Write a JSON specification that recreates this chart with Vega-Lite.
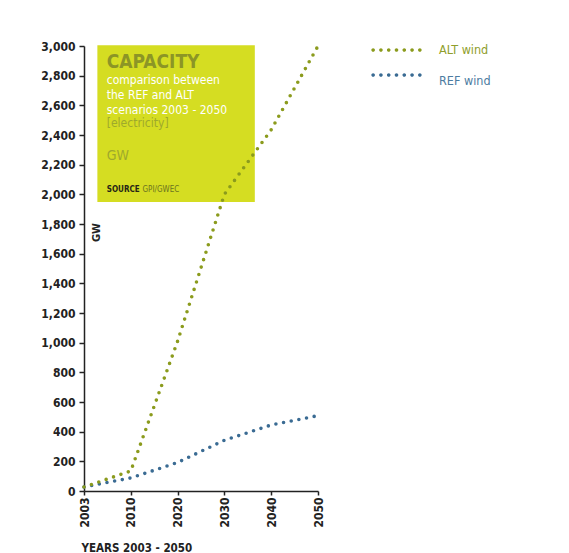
{
  "$schema": "https://vega.github.io/schema/vega-lite/v6.json",
  "width": 234,
  "height": 445,
  "autosize": {"type": "none"},
  "padding": {"left": 84, "top": 46, "right": 251, "bottom": 62},
  "background": "white",
  "config": {"view": {"stroke": null}, "font": "DejaVu Sans Condensed"},
  "datasets": {
    "capacity": [
      {"year": 2003, "series": "ALT wind", "gw": 27},
      {"year": 2010, "series": "ALT wind", "gw": 135},
      {"year": 2020, "series": "ALT wind", "gw": 1010},
      {"year": 2030, "series": "ALT wind", "gw": 2000},
      {"year": 2040, "series": "ALT wind", "gw": 2435},
      {"year": 2050, "series": "ALT wind", "gw": 3000},
      {"year": 2003, "series": "REF wind", "gw": 27},
      {"year": 2010, "series": "REF wind", "gw": 88},
      {"year": 2020, "series": "REF wind", "gw": 192},
      {"year": 2030, "series": "REF wind", "gw": 342},
      {"year": 2040, "series": "REF wind", "gw": 445},
      {"year": 2050, "series": "REF wind", "gw": 508}
    ]
  },
  "encoding": {
    "x": {
      "field": "year",
      "type": "quantitative",
      "scale": {"domain": [2003, 2010, 2050], "range": [0, 46.8, 234], "nice": false, "zero": false},
      "axis": {
        "values": [2003, 2010, 2020, 2030, 2040, 2050],
        "format": "d",
        "labelAngle": 270,
        "labelFont": "DejaVu Sans Condensed",
        "labelFontWeight": "bold",
        "labelFontSize": 12,
        "labelColor": "#222222",
        "labelPadding": 2,
        "tickSize": 4,
        "tickWidth": 1.5,
        "tickColor": "#222222",
        "domainColor": "#222222",
        "domainWidth": 1.5,
        "grid": false,
        "title": "YEARS 2003 - 2050",
        "titleFont": "DejaVu Sans Condensed",
        "titleFontWeight": "bold",
        "titleFontSize": 11.5,
        "titleColor": "#222222",
        "titleAlign": "left",
        "titleBaseline": "alphabetic",
        "titleX": -3,
        "titleY": 60
      }
    },
    "y": {
      "field": "gw",
      "type": "quantitative",
      "scale": {"domain": [0, 3000], "nice": false},
      "axis": {
        "values": [0, 200, 400, 600, 800, 1000, 1200, 1400, 1600, 1800, 2000, 2200, 2400, 2600, 2800, 3000],
        "format": ",d",
        "labelFont": "DejaVu Sans Condensed",
        "labelFontWeight": "bold",
        "labelFontSize": 12,
        "labelColor": "#222222",
        "labelPadding": 4,
        "tickSize": 5,
        "tickWidth": 1.5,
        "tickColor": "#222222",
        "domainColor": "#222222",
        "domainWidth": 1.5,
        "grid": false,
        "title": "GW",
        "titleFont": "DejaVu Sans Condensed",
        "titleFontWeight": "bold",
        "titleFontSize": 11,
        "titleColor": "#222222",
        "titleAngle": 270,
        "titleAlign": "center",
        "titleBaseline": "middle",
        "titleX": 12,
        "titleY": 186
      }
    }
  },
  "layer": [
    {
      "data": {"values": [{"from": 2005, "to": 2036.5, "top": 3005, "bottom": 1948}]},
      "mark": {"type": "rect", "color": "#d5dd22"},
      "encoding": {
        "x": {"field": "from", "type": "quantitative"},
        "x2": {"field": "to"},
        "y": {"field": "top", "type": "quantitative"},
        "y2": {"field": "bottom"}
      }
    },
    {
      "data": {"values": [{"label": "CAPACITY", "year": 2006.4, "gw": 2854}]},
      "mark": {"type": "text", "align": "left", "baseline": "alphabetic", "font": "DejaVu Sans Condensed", "fontWeight": "bold", "fontSize": 19, "color": "#8c9526"},
      "encoding": {
        "x": {"field": "year", "type": "quantitative"},
        "y": {"field": "gw", "type": "quantitative"},
        "text": {"field": "label"}
      }
    },
    {
      "data": {"values": [
        {"label": "comparison between", "year": 2006.4, "gw": 2742},
        {"label": "the REF and ALT", "year": 2006.4, "gw": 2645},
        {"label": "scenarios 2003 - 2050", "year": 2006.4, "gw": 2544}
      ]},
      "mark": {"type": "text", "align": "left", "baseline": "alphabetic", "font": "DejaVu Sans Condensed", "fontSize": 12, "color": "#ffffff"},
      "encoding": {
        "x": {"field": "year", "type": "quantitative"},
        "y": {"field": "gw", "type": "quantitative"},
        "text": {"field": "label"}
      }
    },
    {
      "data": {"values": [{"label": "[electricity]", "year": 2006.4, "gw": 2455}]},
      "mark": {"type": "text", "align": "left", "baseline": "alphabetic", "font": "DejaVu Sans Condensed", "fontSize": 12, "color": "#9ea92c"},
      "encoding": {
        "x": {"field": "year", "type": "quantitative"},
        "y": {"field": "gw", "type": "quantitative"},
        "text": {"field": "label"}
      }
    },
    {
      "data": {"values": [{"label": "GW", "year": 2006.4, "gw": 2229}]},
      "mark": {"type": "text", "align": "left", "baseline": "alphabetic", "font": "DejaVu Sans Condensed", "fontSize": 14, "color": "#9ea92c"},
      "encoding": {
        "x": {"field": "year", "type": "quantitative"},
        "y": {"field": "gw", "type": "quantitative"},
        "text": {"field": "label"}
      }
    },
    {
      "data": {"values": [{"label": "SOURCE", "year": 2006.4, "gw": 2016}]},
      "mark": {"type": "text", "align": "left", "baseline": "alphabetic", "font": "DejaVu Sans Condensed", "fontWeight": "bold", "fontSize": 8, "color": "#262616"},
      "encoding": {
        "x": {"field": "year", "type": "quantitative"},
        "y": {"field": "gw", "type": "quantitative"},
        "text": {"field": "label"}
      }
    },
    {
      "data": {"values": [{"label": "GPI/GWEC", "year": 2012.5, "gw": 2016}]},
      "mark": {"type": "text", "align": "left", "baseline": "alphabetic", "font": "DejaVu Sans Condensed", "fontSize": 8, "color": "#6b7320"},
      "encoding": {
        "x": {"field": "year", "type": "quantitative"},
        "y": {"field": "gw", "type": "quantitative"},
        "text": {"field": "label"}
      }
    },
    {
      "data": {"name": "capacity"},
      "transform": [{"filter": "datum.series === 'REF wind'"}],
      "mark": {"type": "line", "strokeDash": [0, 7.8], "strokeCap": "round", "strokeWidth": 3.6},
      "encoding": {
        "color": {
          "field": "series",
          "type": "nominal",
          "scale": {"domain": ["REF wind"], "range": ["#3a6b93"]},
          "legend": {
            "orient": "none",
            "legendX": 287.5,
            "legendY": 4,
            "title": null,
            "padding": 0,
            "symbolType": "M-1.006,0a0.072,0.072 0 1,0 0.144,0a0.072,0.072 0 1,0 -0.144,0M-0.695,0a0.072,0.072 0 1,0 0.144,0a0.072,0.072 0 1,0 -0.144,0M-0.383,0a0.072,0.072 0 1,0 0.144,0a0.072,0.072 0 1,0 -0.144,0M-0.072,0a0.072,0.072 0 1,0 0.144,0a0.072,0.072 0 1,0 -0.144,0M0.239,0a0.072,0.072 0 1,0 0.144,0a0.072,0.072 0 1,0 -0.144,0M0.551,0a0.072,0.072 0 1,0 0.144,0a0.072,0.072 0 1,0 -0.144,0M0.862,0a0.072,0.072 0 1,0 0.144,0a0.072,0.072 0 1,0 -0.144,0",
            "symbolSize": 2500,
            "symbolFillColor": "#3a6b93",
            "symbolStrokeColor": "#3a6b93",
            "symbolStrokeWidth": 0,
            "labelFont": "DejaVu Sans Condensed",
            "labelFontSize": 12.5,
            "labelColor": "#4d7ca1",
            "labelOffset": 17.5,
            "labelBaseline": "top"
          }
        }
      }
    },
    {
      "data": {"name": "capacity"},
      "transform": [{"filter": "datum.series === 'ALT wind'"}],
      "mark": {"type": "line", "strokeDash": [0, 7.8], "strokeCap": "round", "strokeWidth": 3.6},
      "encoding": {
        "color": {
          "field": "series",
          "type": "nominal",
          "scale": {"domain": ["ALT wind"], "range": ["#8b9b1d"]},
          "legend": {
            "orient": "none",
            "legendX": 287.5,
            "legendY": -21,
            "title": null,
            "padding": 0,
            "symbolType": "M-1.006,0a0.072,0.072 0 1,0 0.144,0a0.072,0.072 0 1,0 -0.144,0M-0.695,0a0.072,0.072 0 1,0 0.144,0a0.072,0.072 0 1,0 -0.144,0M-0.383,0a0.072,0.072 0 1,0 0.144,0a0.072,0.072 0 1,0 -0.144,0M-0.072,0a0.072,0.072 0 1,0 0.144,0a0.072,0.072 0 1,0 -0.144,0M0.239,0a0.072,0.072 0 1,0 0.144,0a0.072,0.072 0 1,0 -0.144,0M0.551,0a0.072,0.072 0 1,0 0.144,0a0.072,0.072 0 1,0 -0.144,0M0.862,0a0.072,0.072 0 1,0 0.144,0a0.072,0.072 0 1,0 -0.144,0",
            "symbolSize": 2500,
            "symbolFillColor": "#8b9b1d",
            "symbolStrokeColor": "#8b9b1d",
            "symbolStrokeWidth": 0,
            "labelFont": "DejaVu Sans Condensed",
            "labelFontSize": 12.5,
            "labelColor": "#8f9e2c",
            "labelOffset": 17.5
          }
        }
      }
    }
  ],
  "resolve": {"scale": {"color": "independent"}}
}
